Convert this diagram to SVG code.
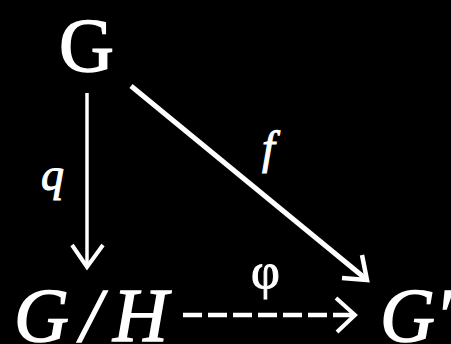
<svg xmlns="http://www.w3.org/2000/svg" width="451" height="344" viewBox="0 0 451 344">
<style>
.node{font-family:"Liberation Serif","DejaVu Serif",serif;fill:#fff;stroke:#fff;stroke-width:1.4px;font-size:76px}
.it{font-style:italic}
.lbl{font-family:"Liberation Serif","DejaVu Serif",serif;fill:#fff;stroke:#fff;stroke-width:1px;font-size:46px}
.edge{stroke:#fff;fill:none;stroke-linecap:butt;stroke-linejoin:miter}
</style>
<rect width="451" height="344" fill="#000"/>
<g id="node-G"><text class="node" x="59" y="71">G</text></g>
<g id="node-GH"><text class="node it" x="14" y="341" textLength="154" lengthAdjust="spacing">G/H</text></g>
<g id="node-Gp"><text class="node it" x="380" y="341">G′</text></g>
<g id="connectors">
<g id="edge-q">
<line class="edge" x1="87" y1="93" x2="87" y2="266" stroke-width="3.5"/>
<polyline class="edge" points="72,245 87,267 103,245" stroke-width="4"/>
<text class="lbl it" x="41" y="190">q</text>
</g>
<g id="edge-f">
<line class="edge" x1="131" y1="86" x2="366" y2="279" stroke-width="5"/>
<polyline class="edge" points="362,255 367,280 342,278" stroke-width="4.5"/>
<text class="lbl it" x="262" y="163">f</text>
</g>
<g id="edge-phi">
<line class="edge" x1="183" y1="315" x2="352" y2="315" stroke-width="4.5" stroke-dasharray="19 6"/>
<polyline class="edge" points="336,298 355,315 337,332" stroke-width="4"/>
<text class="lbl" x="251" y="288" style="font-size:50px">φ</text>
</g>
</g>
</svg>
